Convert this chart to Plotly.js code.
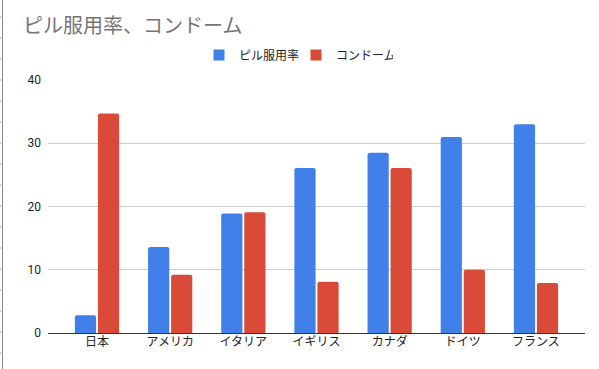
<!DOCTYPE html>
<html>
<head>
<meta charset="utf-8">
<script src="https://cdn.plot.ly/plotly-3.0.1.min.js"></script>
<style>html,body{margin:0;padding:0;background:#fff;}#chart{width:599px;height:369px;}</style>
</head>
<body>
<div id="chart"></div>
<script>
const categories = ["日本", "アメリカ", "イタリア", "イギリス", "カナダ", "ドイツ", "フランス"];
const pillRate = [2.8, 13.6, 18.9, 26.1, 28.5, 31.0, 33.0];
const condomRate = [34.7, 9.2, 19.1, 8.1, 26.1, 10.0, 7.9];
const seriesNames = ["ピル服用率", "コンドーム"];
const seriesColors = ["#4080e8", "#da4a38"];
const yTicks = [0, 10, 20, 30, 40];

const FONT = "Roboto, Arial, 'Noto Sans CJK JP', sans-serif";

const traces = [
  {type: "bar", name: seriesNames[0], x: categories, y: pillRate, marker: {color: seriesColors[0]}, showlegend: false},
  {type: "bar", name: seriesNames[1], x: categories, y: condomRate, marker: {color: seriesColors[1]}, showlegend: false},
  // legend entries with square swatches
  {type: "scatter", mode: "markers", name: seriesNames[0], x: [categories[0]], y: [null], marker: {symbol: "square", size: 11, color: seriesColors[0]}, showlegend: true},
  {type: "scatter", mode: "markers", name: seriesNames[1], x: [categories[0]], y: [null], marker: {symbol: "square", size: 11, color: seriesColors[1]}, showlegend: true}
];

// decorative spreadsheet edge: thin line with small ticks at far left
const W = 537, H = 253, L = 48, T = 80;
const px = v => (v - L) / W;
const py = v => (T + H - v) / H;
const shapes = [{type: "line", xref: "paper", yref: "paper", x0: px(2.5), x1: px(2.5), y0: py(0), y1: py(369), line: {color: "#8a8a8a", width: 1}}];
for (let yy = 17; yy <= 360; yy += 21) {
  shapes.push({type: "line", xref: "paper", yref: "paper", x0: px(0), x1: px(2.5), y0: py(yy), y1: py(yy), line: {color: "#b0b0b0", width: 1}});
}

const layout = {
  width: 599, height: 369,
  margin: {l: L, r: 599 - L - W, t: T, b: 369 - T - H, pad: 0},
  paper_bgcolor: "#fff", plot_bgcolor: "#fff",
  font: {family: FONT, size: 12, color: "#222"},
  title: {text: "ピル服用率、コンドーム", x: 23 / 599, xref: "container", xanchor: "left", y: 1 - 26 / 369, yref: "container", yanchor: "middle",
          font: {family: FONT, size: 20, color: "#757575"}},
  barmode: "group", bargap: 0.37, bargroupgap: 0.08, barcornerradius: 2,
  showlegend: true,
  legend: {orientation: "h", x: px(199), xanchor: "left", y: py(55), yanchor: "middle", font: {size: 12, color: "#222"},
           itemwidth: 30, traceorder: "normal", entrywidth: 52, entrywidthmode: "pixels"},
  xaxis: {type: "category", range: [-0.67, 6.67], showgrid: false, zeroline: false, showline: false,
          ticks: "", tickfont: {size: 12, color: "#222"}, fixedrange: true},
  yaxis: {range: [0, 40], tickvals: yTicks, ticktext: yTicks.map(String), showgrid: true, gridcolor: "#cccccc", gridwidth: 1,
          zeroline: true, zerolinecolor: "#333", zerolinewidth: 1, showline: false, ticks: "", ticklabelstandoff: 6,
          tickfont: {size: 12, color: "#222"}, fixedrange: true},
  shapes: shapes
};

Plotly.newPlot("chart", traces, layout, {displayModeBar: false, staticPlot: true});
</script>
</body>
</html>
